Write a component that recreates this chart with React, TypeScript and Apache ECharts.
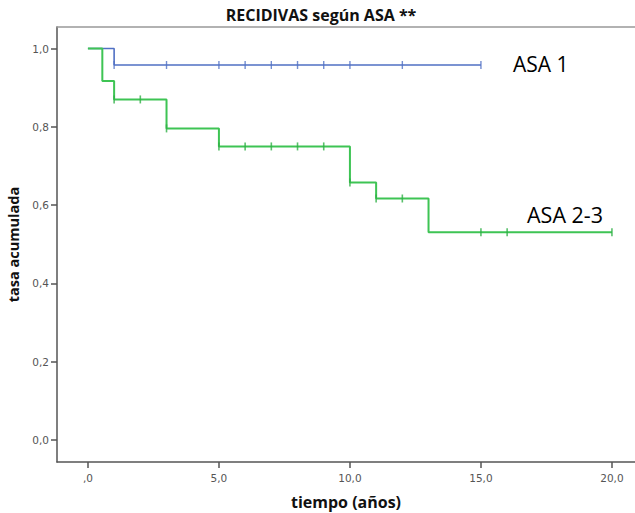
import React, { useEffect, useRef } from "react";
import * as echarts from "echarts";

// Kaplan-Meier step curves (time in years, cumulative rate)
const asa1Times = [0, 1, 15];
const asa1Values = [1.0, 0.958, 0.958];
const asa1Censored = [1, 3, 5, 6, 7, 8, 9, 10, 12, 15];

const asa23Times = [0, 0.55, 1, 3, 5, 10, 11, 13, 20];
const asa23Values = [1.0, 0.917, 0.87, 0.796, 0.75, 0.658, 0.617, 0.531, 0.531];
const asa23Censored = [1, 2, 3, 5, 6, 7, 8, 9, 10, 11, 12, 15, 16, 20];

const xTicks = [0, 5, 10, 15, 20];
const yTicks = [0, 0.2, 0.4, 0.6, 0.8, 1.0];

const BLUE = "#5070c4";
const GREEN = "#3ec454";

function survivalAt(times: number[], values: number[], t: number): number {
  let v = values[0];
  for (let i = 0; i < times.length; i++) {
    if (times[i] <= t) v = values[i];
  }
  return v;
}

function fmt(v: number): string {
  return v.toFixed(1).replace(".", ",");
}

export default function App() {
  const ref = useRef<HTMLDivElement>(null);
  useEffect(() => {
    if (!ref.current) return;
    const chart = echarts.init(ref.current, undefined, { renderer: "svg" });
    const font = "DejaVu Sans";
    const labelFont = "Open Sans";
    const option: any = {
      animation: false,
      backgroundColor: "#ffffff",
      title: {
        text: "RECIDIVAS según ASA **",
        left: 316,
        top: 2,
        textAlign: "center",
        textStyle: { fontFamily: labelFont, fontWeight: "bold", fontSize: 16, color: "#111" },
      },
      grid: { left: 57, right: 0, top: 27, bottom: 51, containLabel: false, outerBoundsMode: "none" },
      xAxis: [
        {
          type: "value",
          min: -1.18,
          max: 20.88,
          position: "bottom",
          name: "tiempo (años)",
          nameLocation: "middle",
          nameGap: 32,
          nameTextStyle: { fontFamily: labelFont, fontWeight: "bold", fontSize: 16, color: "#111" },
          axisLine: { show: true, onZero: false, lineStyle: { color: "#555", width: 1.5 } },
          axisTick: { show: true, length: 6, customValues: xTicks, lineStyle: { color: "#555", width: 1.5 } },
          axisLabel: {
            customValues: xTicks,
            formatter: (v: number) => (v === 0 ? ",0" : fmt(v)),
            fontFamily: font,
            fontSize: 10.5,
            color: "#555",
            margin: 10,
          },
          splitLine: { show: false },
        },
        {
          type: "value",
          min: -1.18,
          max: 20.88,
          position: "top",
          axisLine: { show: true, onZero: false, lineStyle: { color: "#999", width: 1.5 } },
          axisTick: { show: false },
          axisLabel: { show: false },
          splitLine: { show: false },
        },
      ],
      yAxis: {
        type: "value",
        min: -0.056,
        max: 1.055,
        name: "tasa acumulada",
        nameLocation: "middle",
        nameGap: 35,
        nameTextStyle: { fontFamily: labelFont, fontWeight: "bold", fontSize: 14.5, color: "#111" },
        axisLine: { show: true, onZero: false, lineStyle: { color: "#555", width: 1.5 } },
        axisTick: { show: true, length: 6, customValues: yTicks, lineStyle: { color: "#555", width: 1.5 } },
        axisLabel: {
          customValues: yTicks,
          formatter: (v: number) => fmt(v),
          fontFamily: font,
          fontSize: 10.5,
          color: "#555",
          margin: 8,
        },
        splitLine: { show: false },
      },
      series: [
        {
          type: "line",
          step: "end",
          data: asa1Times.map((t, i) => [t, asa1Values[i]]),
          symbol: "none",
          lineStyle: { color: BLUE, width: 1.6 },
          z: 2,
        },
        {
          type: "scatter",
          data: asa1Censored.map((t) => [t, survivalAt(asa1Times, asa1Values, t)]),
          symbol: "rect",
          symbolSize: [1.4, 8],
          itemStyle: { color: BLUE },
          z: 3,
        },
        {
          type: "line",
          step: "end",
          data: asa23Times.map((t, i) => [t, asa23Values[i]]),
          symbol: "none",
          lineStyle: { color: GREEN, width: 2 },
          z: 4,
        },
        {
          type: "scatter",
          data: asa23Censored.map((t) => [t, survivalAt(asa23Times, asa23Values, t)]),
          symbol: "rect",
          symbolSize: [1.6, 8],
          itemStyle: { color: "#2fb046" },
          z: 5,
        },
      ],
      graphic: [
        {
          type: "text",
          left: 513,
          top: 53,
          style: { text: "ASA 1", fontFamily: labelFont, fontSize: 21, fill: "#000" },
        },
        {
          type: "text",
          left: 527,
          top: 203,
          style: { text: "ASA 2-3", fontFamily: labelFont, fontSize: 21.5, fill: "#000" },
        },
      ],
    };
    chart.setOption(option);
    return () => chart.dispose();
  }, []);
  return (
    <div
      ref={ref}
      style={{ position: "absolute", left: 0, top: 0, width: 635, height: 513 }}
    />
  );
}
